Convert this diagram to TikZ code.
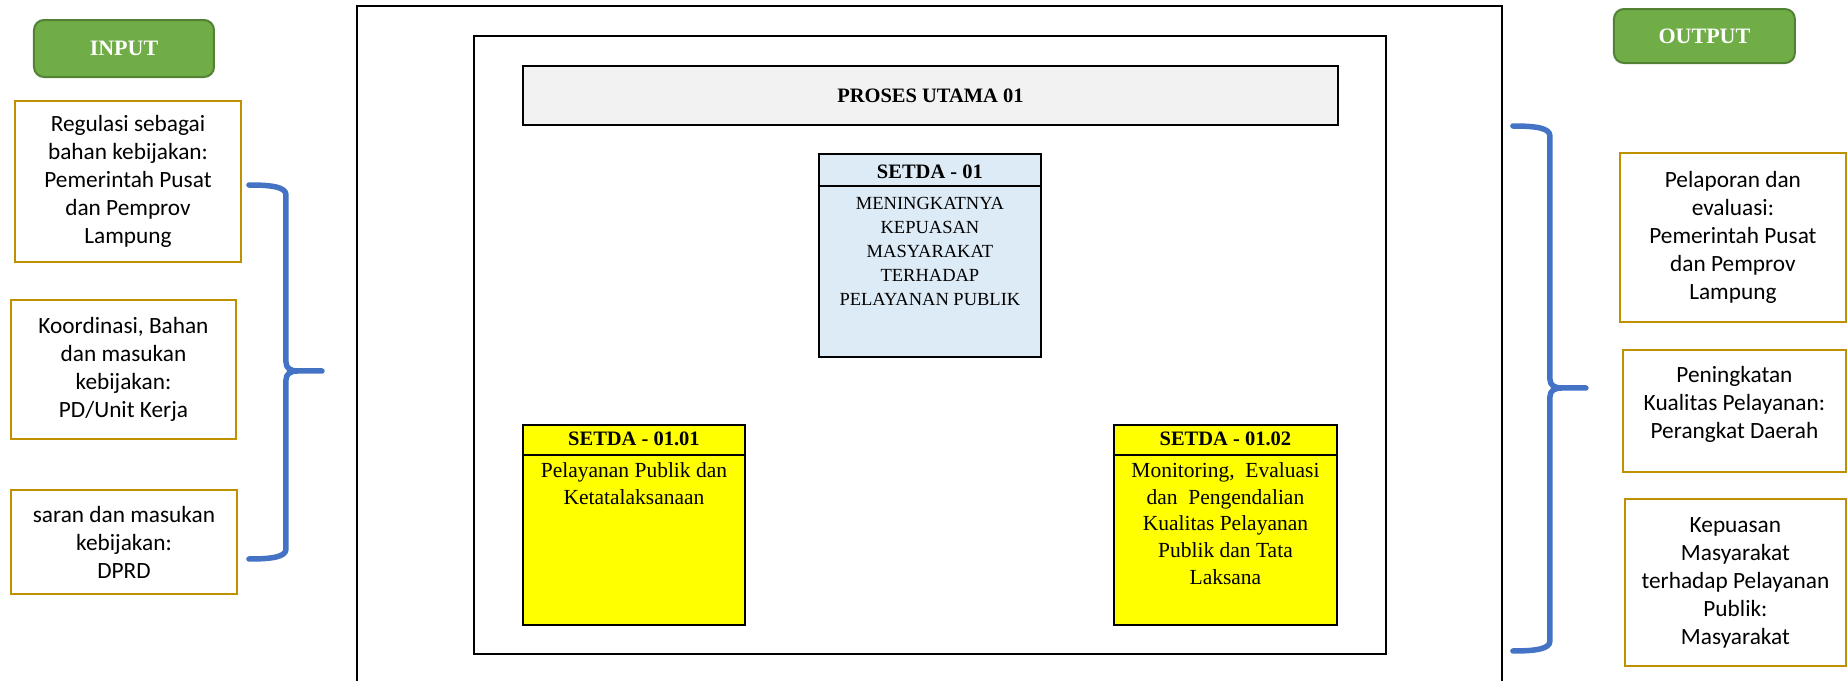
\documentclass[tikz,border=0pt]{standalone}
\usepackage{fontspec}
\setmainfont{Liberation Serif}
\newfontfamily\calibrifont{Carlito}
\definecolor{btngreen}{HTML}{70AD47}
\definecolor{btnedge}{HTML}{548235}
\definecolor{goldedge}{HTML}{BF9000}
\definecolor{bracecol}{HTML}{4472C4}
\definecolor{setdablue}{HTML}{DDEBF7}
\definecolor{setdayellow}{RGB}{255,255,0}
\definecolor{barfill}{HTML}{F2F2F2}
\tikzset{
frameline/.style={draw, line width=1pt},
button/.style={ % green INPUT / OUTPUT tabs
draw=btnedge, fill=btngreen, line width=1pt,
rounded corners=5pt, inner sep=0pt,
text=white, font=\fontsize{11}{13}\selectfont\bfseries},
sidebox/.style={ % gold framed boxes left and right
draw=goldedge, line width=1.1pt, fill=white,
align=center, inner sep=0pt,
font=\calibrifont\fontsize{11.65}{14}\selectfont},
setdabox/.style={draw, line width=1.2pt, inner sep=0pt},
setdahead/.style={inner sep=0pt, font=\fontsize{10.25}{12}\selectfont\bfseries},
setdabody/.style={anchor=north, align=center, inner sep=0pt},
bracket/.style={draw=bracecol, line width=2.75pt, line cap=round, line join=round}}

\begin{document}
\begin{tikzpicture}[x=0.5pt, y=-0.5pt]
\fill[white] (0,0) rectangle (1847,681);
% frames
\draw[frameline] (357,681) -- (357,6) -- (1502,6) -- (1502,681);
\draw[frameline] (474,36) rectangle (1386,654);
\node[draw, line width=1pt, fill=barfill, minimum width=407.5pt, minimum height=29.5pt,
  font=\fontsize{10.25}{12}\selectfont\bfseries] (proses) at (930.5,95.5) {PROSES UTAMA 01};

% SETDA boxes
\node[setdabox, fill=setdablue, minimum width=111pt, minimum height=101.5pt] (s01) at (930,255.5) {};
\node[setdahead] (s01t) at (930,172) {SETDA - 01};
\draw[line width=1.2pt] (s01.west |- 0,186) -- (s01.east |- 0,186);
\node[setdabody, font=\fontsize{9.25}{12}\selectfont] (s01b) at (930,197)
  {MENINGKATNYA\\KEPUASAN\\MASYARAKAT\\TERHADAP\\PELAYANAN PUBLIK};

\node[setdabox, fill=setdayellow, minimum width=111pt, minimum height=100pt] (s0101) at (634,525) {};
\node[setdahead] (s0101t) at (634,439) {SETDA - 01.01};
\draw[line width=1.2pt] (s0101.west |- 0,455) -- (s0101.east |- 0,455);
\node[setdabody, font=\fontsize{10.75}{13.35}\selectfont] (s0101b) at (634,462)
  {Pelayanan Publik dan\\Ketatalaksanaan};

\node[setdabox, fill=setdayellow, minimum width=111.5pt, minimum height=100pt] (s0102) at (1225.5,525) {};
\node[setdahead] (s0102t) at (1225.5,439) {SETDA - 01.02};
\draw[line width=1.2pt] (s0102.west |- 0,455) -- (s0102.east |- 0,455);
\node[setdabody, font=\fontsize{10.75}{13.35}\selectfont] (s0102b) at (1225.5,462)
  {Monitoring,\ \ Evaluasi\\dan\ \ Pengendalian\\Kualitas Pelayanan\\Publik dan Tata\\Laksana};

% input side
\node[button, minimum width=90pt, minimum height=28.5pt] (input) at (124,48.5) {INPUT};
\node[sidebox, minimum width=113pt, minimum height=80.5pt] (in1) at (128,181.5)
  {Regulasi sebagai\\bahan kebijakan:\\Pemerintah Pusat\\dan Pemprov\\Lampung};
\node[sidebox, minimum width=112.5pt, minimum height=69.5pt] (in2) at (123.5,369.5)
  {Koordinasi, Bahan\\dan masukan\\kebijakan:\\PD/Unit Kerja};
\node[sidebox, minimum width=113pt, minimum height=52pt] (in3) at (124,542)
  {saran dan masukan\\kebijakan:\\DPRD};
\draw[bracket] (249,185) .. controls (272,185) and (286,187) .. (286,195)
  -- (286,362) .. controls (286,368) and (290,371) .. (298,371) -- (322,371)
  -- (298,371) .. controls (290,371) and (286,374) .. (286,380)
  -- (286,549) .. controls (286,557) and (272,559) .. (249,559);

% output side
\node[button, minimum width=90.5pt, minimum height=27pt] (output) at (1704.5,36) {OUTPUT};
\node[sidebox, minimum width=113pt, minimum height=84.5pt] (out1) at (1733,237.5)
  {Pelaporan dan\\evaluasi:\\Pemerintah Pusat\\dan Pemprov\\Lampung};
\node[sidebox, minimum width=111.5pt, minimum height=61pt] (out2) at (1734.5,411)
  {Peningkatan\\Kualitas Pelayanan:\\Perangkat Daerah\rule[-8.3pt]{0pt}{0pt}};
\node[sidebox, minimum width=110.5pt, minimum height=83.5pt] (out3) at (1735.5,582.5)
  {Kepuasan\\Masyarakat\\terhadap Pelayanan\\Publik:\\Masyarakat};
\draw[bracket] (1513,126) .. controls (1536,126) and (1550,128) .. (1550,136)
  -- (1550,379) .. controls (1550,385) and (1554,388) .. (1562,388) -- (1586,388)
  -- (1562,388) .. controls (1554,388) and (1550,391) .. (1550,397)
  -- (1550,641) .. controls (1550,649) and (1536,651) .. (1513,651);
\end{tikzpicture}
\end{document}
